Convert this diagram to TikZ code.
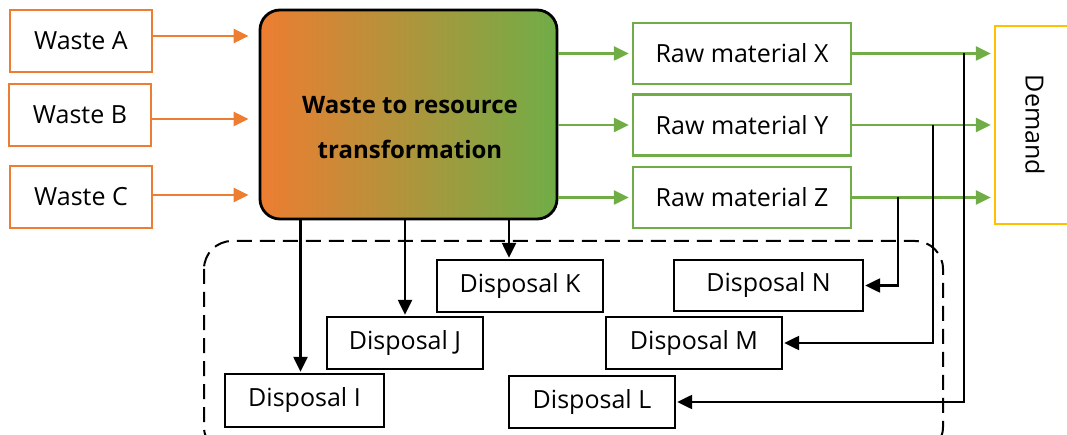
\documentclass[tikz,border=0pt]{standalone}
\usepackage{fontspec}
\setmainfont{Open Sans}
\usetikzlibrary{arrows.meta,calc}
\definecolor{worange}{RGB}{237,125,49}
\definecolor{wgreen}{RGB}{112,173,71}
\definecolor{wgold}{RGB}{255,192,0}
\begin{document}
\begin{tikzpicture}[x=1pt,y=-1pt,
  font=\fontsize{25}{29}\selectfont,
  basebox/.style={draw, line width=2.4pt, inner sep=0pt},
  wastebox/.style={basebox, draw=worange, minimum width=142pt, minimum height=62pt},
  rawbox/.style={basebox, draw=wgreen, minimum width=218pt, minimum height=61pt},
  dispbox/.style={basebox, draw=black},
  demandbox/.style={basebox, draw=wgold, minimum width=80pt, minimum height=198pt},
  mainbox/.style={draw=black, line width=2.8pt, rounded corners=20pt, left color=worange, right color=wgreen, minimum width=297pt, minimum height=209pt},
  tip/.style={-{Triangle[length=15pt,width=14pt]}},
  oarrow/.style={tip, draw=worange, line width=2.4pt, shorten >=10pt},
  garrow/.style={tip, draw=wgreen, line width=2.4pt, shorten >=3pt},
  barrow/.style={tip, draw=black, line width=2.4pt, shorten >=1pt},
  groupline/.style={draw=black, line width=2pt, dash pattern=on 15pt off 8pt, rounded corners=28pt}
]
\useasboundingbox (0,0) rectangle (1067,435);

% group outline
\draw[groupline] (204,241) rectangle (943,455);

% waste sources
\node[wastebox] (wa) at (81,41) {Waste A};
\node[wastebox] (wb) at (80,115) {Waste B};
\node[wastebox] (wc) at (81,197) {Waste C};

% transformation
\node[mainbox] (main) at (408.5,114.5) {};
\node[font=\fontsize{24}{28}\selectfont\bfseries, align=center] (mainlbl) at (410,128) {Waste to resource\\[17pt]transformation};

% raw materials
\node[rawbox] (rx) at (742,53.5) {Raw material X};
\node[rawbox] (ry) at (742,125) {Raw material Y};
\node[rawbox] (rz) at (742,197.5) {Raw material Z};

% demand
\node[demandbox] (dem) at (1035,125) {\rotatebox{-90}{Demand}};

% disposals
\node[dispbox, minimum width=159pt, minimum height=53pt] (di) at (304.5,400.5) {Disposal I};
\node[dispbox, minimum width=156pt, minimum height=52pt] (dj) at (405,343) {Disposal J};
\node[dispbox, minimum width=166pt, minimum height=52pt] (dk) at (520,286) {Disposal K};
\node[dispbox, minimum width=166pt, minimum height=52pt] (dl) at (592,402) {Disposal L};
\node[dispbox, minimum width=176pt, minimum height=52pt] (dm) at (694,343) {Disposal M};
\node[dispbox, minimum width=189pt, minimum height=51pt] (dn) at (768.5,285.5) {Disposal N};

% waste -> transformation
\draw[oarrow] ([yshift=5pt]wa.east) -- ([yshift=5pt]wa.east -| main.west);
\draw[oarrow] ([yshift=-4pt]wb.east) -- ([yshift=-4pt]wb.east -| main.west);
\draw[oarrow] ([yshift=2pt]wc.east) -- ([yshift=2pt]wc.east -| main.west);

% transformation -> raw materials
\draw[garrow] (main.east |- rx.west) -- (rx.west);
\draw[garrow] (main.east |- ry.west) -- (ry.west);
\draw[garrow] (main.east |- rz.west) -- (rz.west);

% raw materials -> demand
\draw[garrow] (rx.east) -- (rx.east -| dem.west);
\draw[garrow] (ry.east) -- (ry.east -| dem.west);
\draw[garrow] (rz.east) -- (rz.east -| dem.west);

% raw materials -> disposal
\draw[barrow] ($(rz.east)+(46,0)$) |- (dn.east);
\draw[barrow] ($(ry.east)+(81,0)$) |- (dm.east);
\draw[barrow] ($(rx.east)+(112,0)$) |- (dl.east);

% transformation -> disposal
\draw[barrow] ([xshift=-4pt]di.north |- main.south) -- ([xshift=-4pt]di.north);
\draw[barrow] (dj.north |- main.south) -- (dj.north);
\draw[barrow] ([xshift=-11pt]dk.north |- main.south) -- ([xshift=-11pt]dk.north);
\end{tikzpicture}
\end{document}
